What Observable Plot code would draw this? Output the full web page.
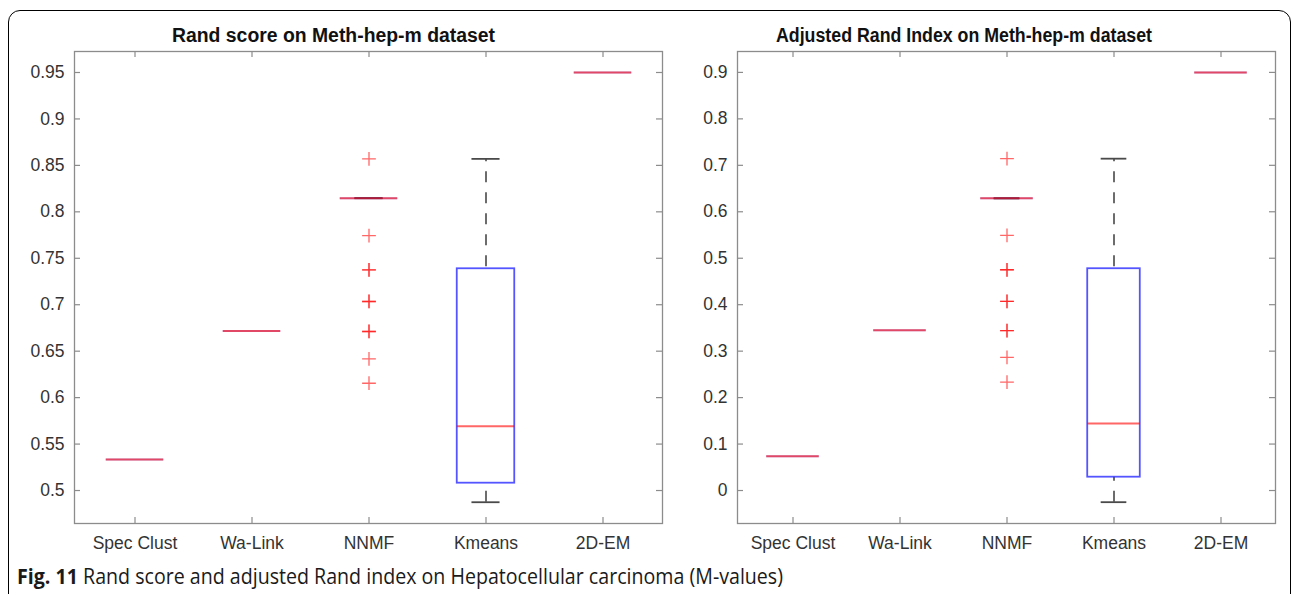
<!DOCTYPE html>
<html><head><meta charset="utf-8">
<script src="https://cdn.jsdelivr.net/npm/d3@7"></script>
<script src="https://cdn.jsdelivr.net/npm/@observablehq/plot@0.6"></script>
<style>
body{margin:0;background:#fff;}
#wrap{position:relative;width:1295px;height:594px;overflow:hidden;background:#fff;font-family:"Liberation Sans",Arial,sans-serif;}
.panel{position:absolute;top:0;}
.title{position:absolute;top:24px;font-weight:bold;font-size:19.5px;line-height:22px;color:#111;white-space:nowrap;font-family:"Liberation Sans",Arial,sans-serif;transform-origin:0 0;}
#border{position:absolute;left:8px;top:10px;width:1281px;height:620px;border:1.5px solid #000;border-radius:12px;pointer-events:none;}
#caption{position:absolute;left:17px;top:566px;font-family:"Open Sans",sans-serif;font-size:21px;line-height:21px;color:#1a1a1a;white-space:nowrap;transform-origin:0 0;}
</style></head>
<body>
<div id="wrap">
  <div id="left" class="panel" style="left:0px"></div>
  <div id="right" class="panel" style="left:665px"></div>
  <div class="title" id="t1">Rand score on Meth-hep-m dataset</div>
  <div class="title" id="t2">Adjusted Rand Index on Meth-hep-m dataset</div>
  <div id="border"></div>
  <div id="caption"><b>Fig. 11</b> Rand score and adjusted Rand index on Hepatocellular carcinoma (M-values)</div>
</div>
<script>
const categories = ["Spec Clust", "Wa-Link", "NNMF", "Kmeans", "2D-EM"];

// Rand score panel
const randQ1 = [0.5335, 0.6718, 0.8147, 0.5079, 0.95];
const randMedian = [0.5335, 0.6718, 0.8147, 0.5692, 0.95];
const randQ3 = [0.5335, 0.6718, 0.8147, 0.7387, 0.95];
const randWhiskerLow = [null, null, 0.8147, 0.4874, null];
const randWhiskerHigh = [null, null, 0.8147, 0.857, null];
const randOutliersNNMF = [0.857, 0.7745, 0.7376, 0.7376, 0.7035, 0.7035, 0.6712, 0.6712, 0.6418, 0.6155];
const randTicks = [0.5, 0.55, 0.6, 0.65, 0.7, 0.75, 0.8, 0.85, 0.9, 0.95];
const randDomain = [0.4645, 0.9726];

// Adjusted Rand index panel
const ariQ1 = [0.074, 0.345, 0.629, 0.0287, 0.9];
const ariMedian = [0.074, 0.345, 0.629, 0.1443, 0.9];
const ariQ3 = [0.074, 0.345, 0.629, 0.4774, 0.9];
const ariWhiskerLow = [null, null, 0.629, -0.0251, null];
const ariWhiskerHigh = [null, null, 0.629, 0.7143, null];
const ariOutliersNNMF = [0.7143, 0.549, 0.4752, 0.4752, 0.407, 0.407, 0.344, 0.344, 0.2864, 0.2332];
const ariTicks = [0, 0.1, 0.2, 0.3, 0.4, 0.5, 0.6, 0.7, 0.8, 0.9];
const ariDomain = [-0.071, 0.945];

function rowsOf(q1, med, q3, lo, hi) {
  return categories.map((cat, i) => ({cat, q1: q1[i], med: med[i], q3: q3[i], lo: lo[i], hi: hi[i]}));
}

function panel({width, marginLeft, marginRight, domain, ticks, rows, outliers}) {
  const height = 560, marginTop = 51, marginBottom = 37;
  const pw = width - marginLeft - marginRight, ph = height - marginTop - marginBottom;
  const bw = pw / categories.length;
  const boxInset = bw * 0.253, capInset = bw * 0.378;
  const axisCol = "#8c8c8c";
  return Plot.plot({
    width, height, marginLeft, marginRight, marginTop, marginBottom,
    style: {background: "transparent", fontFamily: "'Liberation Sans', Arial, sans-serif", fontSize: "17.5px", color: "#333"},
    x: {type: "band", domain: categories, padding: 0, label: null},
    y: {domain, label: null},
    marks: [
      Plot.axisX({tickSize: 0, tickPadding: 13, label: null}),
      Plot.axisY({ticks, tickSize: 0, tickPadding: 10, tickFormat: d => String(d), label: null}),
      Plot.frame({stroke: axisCol, strokeWidth: 1.3}),
      Plot.tickY(ticks, {y: d => d, insetRight: pw - 6, stroke: axisCol, strokeWidth: 1.2}),
      Plot.tickY(ticks, {y: d => d, insetLeft: pw - 6, stroke: axisCol, strokeWidth: 1.2}),
      Plot.tickX(categories, {x: d => d, insetBottom: ph - 6, stroke: axisCol, strokeWidth: 1.2}),
      Plot.tickX(categories, {x: d => d, insetTop: ph - 6, stroke: axisCol, strokeWidth: 1.2}),
      Plot.ruleX(rows.filter(d => d.hi != null && d.hi > d.q3), {x: "cat", y1: "q3", y2: "hi", stroke: "#3c3c3c", strokeWidth: 1.5, strokeDasharray: "11,10", strokeDashoffset: -2}),
      Plot.ruleX(rows.filter(d => d.lo != null && d.lo < d.q1), {x: "cat", y1: "lo", y2: "q1", stroke: "#3c3c3c", strokeWidth: 1.5, strokeDasharray: "11,10"}),
      Plot.tickY(rows.filter(d => d.hi != null), {x: "cat", y: "hi", insetLeft: capInset, insetRight: capInset, stroke: "#4a4a4a", strokeWidth: 1.8}),
      Plot.tickY(rows.filter(d => d.lo != null), {x: "cat", y: "lo", insetLeft: capInset, insetRight: capInset, stroke: "#4a4a4a", strokeWidth: 1.8}),
      Plot.barY(rows.filter(d => d.q3 > d.q1), {x: "cat", y1: "q1", y2: "q3", insetLeft: boxInset, insetRight: boxInset, fill: "none", stroke: "#2a2aff", strokeOpacity: 0.8, strokeWidth: 1.8}),
      Plot.tickY(rows.filter(d => d.q3 === d.q1), {x: "cat", y: "q1", insetLeft: boxInset, insetRight: boxInset, stroke: "#2a2aff", strokeOpacity: 0.35, strokeWidth: 2}),
      Plot.tickY(rows, {x: "cat", y: "med", insetLeft: boxInset, insetRight: boxInset, stroke: "#ff0000", strokeOpacity: 0.6, strokeWidth: 2}),
      Plot.dot(outliers, {x: "cat", y: "v", symbol: "plus", r: 4.5, stroke: "#ff0000", strokeOpacity: 0.6, strokeWidth: 1.3})
    ]
  });
}

document.getElementById("left").appendChild(panel({
  width: 665, marginLeft: 74, marginRight: 3,
  domain: randDomain, ticks: randTicks,
  rows: rowsOf(randQ1, randMedian, randQ3, randWhiskerLow, randWhiskerHigh),
  outliers: randOutliersNNMF.map(v => ({cat: "NNMF", v}))
}));
document.getElementById("right").appendChild(panel({
  width: 630, marginLeft: 72, marginRight: 20,
  domain: ariDomain, ticks: ariTicks,
  rows: rowsOf(ariQ1, ariMedian, ariQ3, ariWhiskerLow, ariWhiskerHigh),
  outliers: ariOutliersNNMF.map(v => ({cat: "NNMF", v}))
}));

function fit(el, left, w) {
  const cw = el.getBoundingClientRect().width;
  el.style.left = left + "px";
  el.style.transform = `scaleX(${w / cw})`;
}
fit(document.getElementById("t1"), 172, 323);
fit(document.getElementById("t2"), 776, 376);
fit(document.getElementById("caption"), 17, 766);
</script>
</body></html>
